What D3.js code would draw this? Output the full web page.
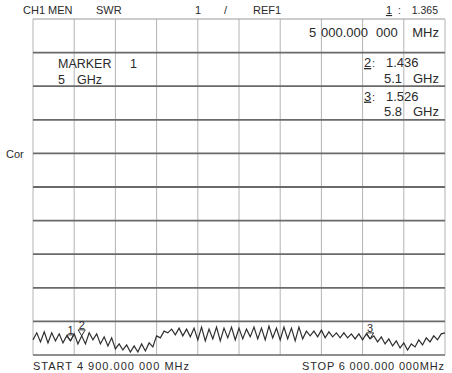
<!DOCTYPE html>
<html>
<head>
<meta charset="utf-8">
<script src="https://cdn.jsdelivr.net/npm/d3@7/dist/d3.min.js"></script>
<style>
  html, body { margin: 0; padding: 0; background: #fff; }
  svg { display: block; }
  text { font-family: "Liberation Sans", Arial, sans-serif; fill: #2a2a2a; }
</style>
</head>
<body>
<div id="chart"></div>
<script>
// ---------- data ----------
const startMHz = 4900;
const stopMHz = 6000;
const stepMHz = 10;
// SWR trace, one value per 10 MHz from 4900 to 6000 MHz
const swr = [
  1.45, 1.66, 1.39, 1.69, 1.36, 1.66, 1.42, 1.63, 1.36, 1.57,
  1.42, 1.63, 1.33, 1.57, 1.33, 1.66, 1.45, 1.63, 1.33, 1.54,
  1.27, 1.51, 1.18, 1.33, 1.15, 1.30, 1.09, 1.27, 1.09, 1.33,
  1.12, 1.36, 1.24, 1.57, 1.51, 1.71, 1.66, 1.77, 1.60, 1.80,
  1.57, 1.77, 1.54, 1.80, 1.45, 1.83, 1.42, 1.77, 1.48, 1.83,
  1.42, 1.80, 1.51, 1.83, 1.45, 1.80, 1.48, 1.77, 1.54, 1.83,
  1.48, 1.80, 1.45, 1.86, 1.51, 1.80, 1.45, 1.83, 1.48, 1.80,
  1.42, 1.83, 1.48, 1.71, 1.57, 1.71, 1.54, 1.74, 1.51, 1.69,
  1.54, 1.66, 1.51, 1.66, 1.51, 1.63, 1.48, 1.63, 1.45, 1.63,
  1.48, 1.57, 1.39, 1.54, 1.33, 1.48, 1.27, 1.42, 1.21, 1.36,
  1.15, 1.33, 1.24, 1.45, 1.30, 1.51, 1.39, 1.57, 1.45, 1.63,
  1.66
];
const markerIds = ["1", "2", "3"];
const markerFreqMHz = [5000, 5030, 5800];
const markerValues = ["1.365", "1.436", "1.526"];
const markerLabelsGHz = ["5 GHz", "5.1 GHz", "5.8 GHz"];
const refValue = 1;      // bottom line
const perDiv = 1;        // units per division
const xDivs = 10, yDivs = 10;

(function () {
// ---------- layout ----------
const W = 452, H = 373;
const pLeft = 33, pRight = 445, pTop = 19, pBottom = 355;

const svg = d3.select("#chart").append("svg")
  .attr("width", W).attr("height", H);
svg.append("rect").attr("width", W).attr("height", H).attr("fill", "#fff");

const x = d3.scaleLinear().domain([startMHz, stopMHz]).range([pLeft, pRight]);
const y = d3.scaleLinear().domain([refValue, refValue + perDiv * yDivs]).range([pBottom, pTop]);

// vertical grid
const xTicks = d3.range(xDivs + 1).map(i => startMHz + i * (stopMHz - startMHz) / xDivs);
svg.append("g").selectAll("line").data(xTicks).join("line")
  .attr("x1", d => x(d)).attr("x2", d => x(d))
  .attr("y1", pTop).attr("y2", pBottom)
  .attr("stroke", "#b4b4b4").attr("stroke-width", 1);

// horizontal grid
const yTicks = d3.range(yDivs + 1).map(i => refValue + i * perDiv);
const topVal = refValue + perDiv * yDivs;
svg.append("g").selectAll("line").data(yTicks).join("line")
  .attr("x1", pLeft).attr("x2", pRight)
  .attr("y1", d => y(d)).attr("y2", d => y(d))
  .attr("stroke", d => (d === topVal) ? "#9a9a9a" : "#6a6a6a")
  .attr("stroke-width", d => (d === topVal) ? 1 : (d === refValue ? 1.4 : 1.8));

// trace
const pts = swr.map((v, i) => [startMHz + i * stepMHz, v]);
svg.append("path").datum(pts)
  .attr("fill", "none").attr("stroke", "#2f2f2f").attr("stroke-width", 1.2)
  .attr("stroke-linejoin", "miter")
  .attr("d", d3.line().x(d => x(d[0])).y(d => y(d[1])));

// markers on trace
markerFreqMHz.forEach((f, k) => {
  const i = Math.round((f - startMHz) / stepMHz);
  const px = x(f), py = y(swr[i]);
  svg.append("path")
    .attr("d", `M${px - 3.5},${py - 6} L${px + 3.5},${py - 6} L${px},${py} Z`)
    .attr("fill", "none").attr("stroke", "#2f2f2f").attr("stroke-width", 1);
  svg.append("text").attr("x", px).attr("y", py - 7).attr("text-anchor", "middle")
    .attr("font-size", 11).text(markerIds[k]);
});

// ---------- texts ----------
function txt(xp, yp, s, size, anchor, extra) {
  const t = svg.append("text").attr("x", xp).attr("y", yp)
    .attr("font-size", size).attr("text-anchor", anchor || "start").text(s);
  if (extra) extra(t);
  return t;
}
// header
txt(23, 14, "CH1 MEN", 11);
txt(96, 14, "SWR", 11);
txt(195, 14, "1", 11);
txt(224, 14, "/", 11);
txt(253, 14, "REF1", 11);
txt(386, 14, markerIds[0], 11, "start", t => t.style("text-decoration", "underline"));
txt(398, 14, ":", 10);
txt(438, 14, markerValues[0], 10.5, "end");

// center frequency
txt(309, 37, "5", 13);
txt(321, 37, "000.000", 13);
txt(376, 37, "000", 13);
txt(439, 37, "MHz", 13, "end");

// marker 1 box
txt(58, 68, "MARKER", 12.5);
txt(130, 68, markerIds[0], 12.5);
txt(58, 84, "5", 12.5);
txt(77, 84, "GHz", 12.5);

// marker 2 & 3
[1, 2].forEach((k, j) => {
  const base = 67 + j * 33.6;
  svg.append("text").attr("x", 364).attr("y", base).attr("font-size", 13)
    .style("text-decoration", "underline").text(markerIds[k]);
  txt(372, base, ":", 11);
  txt(386, base, markerValues[k], 13);
  const parts = markerLabelsGHz[k].split(" ");
  txt(402, base + 15.5, parts[0], 13, "end");
  txt(439, base + 15.5, parts[1], 13, "end");
});

// side label
txt(6, 158, "Cor", 11);

// start / stop
svg.append("text").attr("x", 33).attr("y", 370).attr("font-size", 11)
  .attr("textLength", 156).attr("lengthAdjust", "spacing")
  .text("START 4 900.000 000 MHz");
svg.append("text").attr("x", 302).attr("y", 370).attr("font-size", 11)
  .attr("textLength", 142).attr("lengthAdjust", "spacing")
  .text("STOP 6 000.000 000MHz");
})();
</script>
</body>
</html>
